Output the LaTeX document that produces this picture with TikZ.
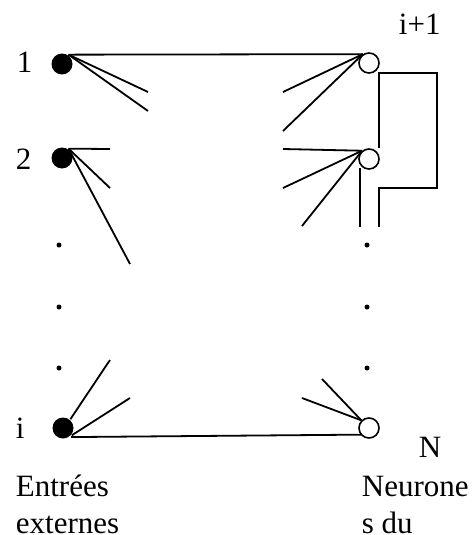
\documentclass[tikz,border=0pt]{standalone}
\usepackage{fontspec}
\setmainfont{Liberation Serif}
\begin{document}
\begin{tikzpicture}[x=1pt,y=-1pt,line width=1.8pt,
  inp/.style={circle,fill=black,draw=none,minimum size=21pt,inner sep=0pt},
  neu/.style={circle,draw=black,fill=white,line width=1.6pt,minimum size=20pt,inner sep=0pt},
  sdot/.style={circle,fill=black,minimum size=5pt,inner sep=0pt},
  lab/.style={anchor=base west,inner sep=0pt,font=\fontsize{31}{37}\selectfont}]
\useasboundingbox (0,0) rectangle (475,535);
% input dots
\node[inp] (d1) at (62,64) {};
\node[inp] (d2) at (62,158) {};
\node[inp] (di) at (63,428) {};
% neurons
\node[neu] (n1) at (369,63) {};
\node[neu] (n2) at (369,159) {};
\node[neu] (nN) at (369,428) {};
% small dots
\node[sdot] (la) at (59,245) {};
\node[sdot] (lb) at (59,307) {};
\node[sdot] (lc) at (59,368) {};
\node[sdot] (ra) at (367,245) {};
\node[sdot] (rb) at (367,307) {};
\node[sdot] (rc) at (367,368) {};
% labels
\node[lab] (t1) at (16,73) {1};
\node[lab] (t2) at (15,169) {2};
\node[lab] (ti) at (15,438) {i};
\node[lab] (tip) at (398,35) {i+1};
\node[lab] (tN) at (418,457) {N};
\node[lab] (te1) at (15,496) {Entrées};
\node[lab] (te2) at (15,533) {externes};
\node[lab] (tn1) at (361,496) {Neurone};
\node[lab] (tn2) at (361,533) {s du};
% free ends
\coordinate (a1) at (148,92);
\coordinate (a2) at (148,111);
\coordinate (b1) at (110,149);
\coordinate (b2) at (110,188);
\coordinate (b3) at (130,264);
\coordinate (c1) at (110,360);
\coordinate (c2) at (130,398);
\coordinate (e1) at (283,92);
\coordinate (e2) at (283,131);
\coordinate (f1) at (283,149);
\coordinate (f2) at (283,188);
\coordinate (f3) at (302,226);
\coordinate (g1) at (322,379);
\coordinate (g2) at (302,398);
% connectors from inputs
\draw (d1.55) -- (n1.125);
\draw (d1.55) -- (a1);
\draw (d1.55) -- (a2);
\draw (d2.55) -- (b1);
\draw (d2.55) -- (b2);
\draw (d2.55) -- (b3);
\draw (di.50) -- (c1);
\draw (di.-40) -- (c2);
\draw (di.-45) ++(0,1) -- ([yshift=1pt]nN.225);
% connectors to neurons
\draw (n1.125) -- (e1);
\draw (n1.125) -- (e2);
\draw (n2.130) -- (f1);
\draw (n2.130) -- (f2);
\draw (n2.130) -- (f3);
\draw (nN.135) -- (g1);
\draw (nN.135) -- (g2);
% feedback
\coordinate (h1) at (379,148);
\coordinate (h2) at (379,73);
\coordinate (h3) at (437,73);
\coordinate (h4) at (437,188);
\coordinate (h5) at (379,188);
\coordinate (h6) at (379,227);
\coordinate (k1) at (360,168);
\coordinate (k2) at (360,227);
\draw (h1) -- (h2) -- (h3) -- (h4) -- (h5) -- (h6);
\draw (k1) -- (k2);
\end{tikzpicture}
\end{document}
